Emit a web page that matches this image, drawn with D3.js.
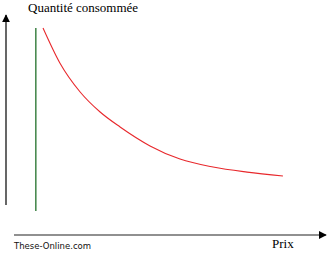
<!DOCTYPE html>
<html lang="fr">
<head>
    <meta charset="UTF-8">
    <title>Quantité consommée / Prix</title>
    <style>
        body { margin: 0; background: #fff; }
    </style>
    <script src="https://d3js.org/d3.v7.min.js"></script>
</head>
<body>
    <script>
        // demand curve (price, quantity)
        var prix = [9.3, 14.7, 21.2, 27.6, 34.0, 43.6, 53.2, 63.8, 74.7, 86.2];
        var quantite = [94.1, 78.2, 65.0, 55.9, 49.1, 40.5, 34.5, 30.9, 28.6, 26.8];
        // vertical green line
        var seuilPrix = [7, 7];
        var seuilQuantite = [10.9, 94.1];

        var width = 328, height = 254;

        var svg = d3.select("body").append("svg")
            .attr("width", width)
            .attr("height", height);

        var x = d3.scaleLinear().domain([0, 100]).range([14, 326]);
        var y = d3.scaleLinear().domain([0, 100]).range([235, 15]);

        var defs = svg.append("defs");
        defs.append("marker")
            .attr("id", "arrow")
            .attr("viewBox", "0 0 10 10")
            .attr("refX", 9).attr("refY", 5)
            .attr("markerWidth", 8).attr("markerHeight", 8)
            .attr("markerUnits", "userSpaceOnUse")
            .attr("orient", "auto")
            .append("path")
            .attr("d", "M0,0L10,5L0,10Z")
            .attr("fill", "#000");

        // y axis arrow (offset to the left of the plot)
        svg.append("line")
            .attr("x1", 6).attr("y1", 205)
            .attr("x2", 6).attr("y2", y(100))
            .attr("stroke", "#000").attr("stroke-width", 1.2)
            .attr("marker-end", "url(#arrow)");

        // x axis arrow
        svg.append("line")
            .attr("x1", x(0)).attr("y1", y(0))
            .attr("x2", x(100)).attr("y2", y(0))
            .attr("stroke", "#222").attr("stroke-width", 1.2)
            .attr("marker-end", "url(#arrow)");

        svg.append("path")
            .datum(d3.zip(seuilPrix, seuilQuantite))
            .attr("d", d3.line().x(d => x(d[0])).y(d => y(d[1])))
            .attr("stroke", "#22702a").attr("stroke-width", 1.3)
            .attr("fill", "none");

        svg.append("path")
            .datum(d3.zip(prix, quantite))
            .attr("d", d3.line().x(d => x(d[0])).y(d => y(d[1])).curve(d3.curveMonotoneX))
            .attr("stroke", "#e8282c").attr("stroke-width", 1.1)
            .attr("fill", "none");

        svg.append("text")
            .attr("x", 28).attr("y", 12)
            .style("font-family", "'Liberation Serif', serif")
            .style("font-size", "13px")
            .text("Quantité consommée");

        svg.append("text")
            .attr("x", 272).attr("y", 248)
            .style("font-family", "'Liberation Serif', serif")
            .style("font-size", "13px")
            .text("Prix");

        svg.append("text")
            .attr("x", 14).attr("y", 249)
            .style("font-family", "'DejaVu Sans', sans-serif")
            .style("font-size", "8.5px")
            .attr("fill", "#111")
            .text("These-Online.com");
    </script>
</body>
</html>
